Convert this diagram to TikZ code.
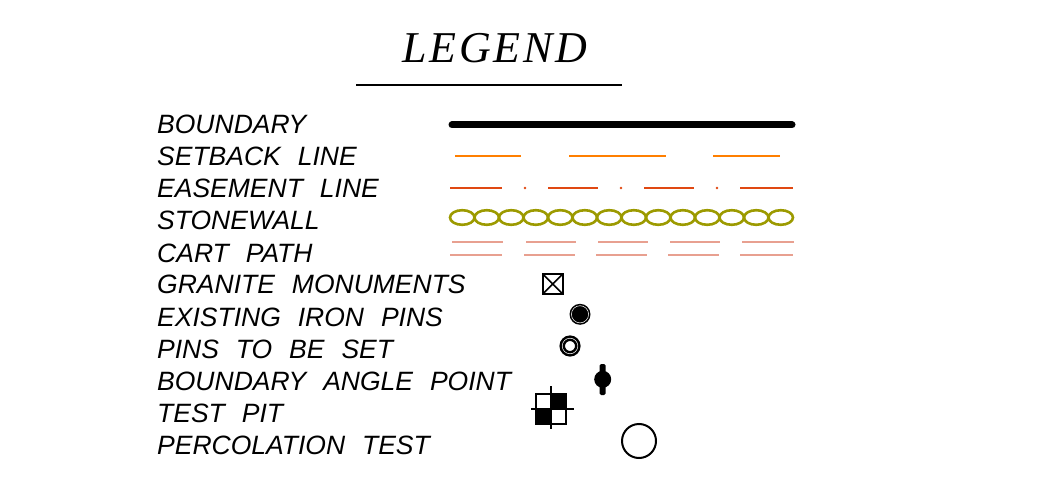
\documentclass[tikz,border=0pt]{standalone}
\usepackage{fontspec}
\setmainfont{Liberation Sans}[WordSpace=2.3]
\newfontfamily\legfont{Liberation Serif}[LetterSpace=6]
\definecolor{setback}{HTML}{FF7F00}
\definecolor{easement}{HTML}{E04812}
\definecolor{stonewall}{HTML}{9C9A00}
\definecolor{cartpath}{HTML}{E8A090}
\begin{document}
\begin{tikzpicture}[x=1pt,y=1pt,
  lbl/.style={anchor=base west,inner sep=0pt,font=\fontsize{26.5}{26.5}\selectfont\itshape},
  sym/.style={line width=2pt,black}]
\useasboundingbox (0,0) rectangle (1038,-486);
% title
\node[anchor=base,inner sep=0pt,font=\fontsize{44}{44}\legfont\itshape] (title) at (495,-62.5) {LEGEND};
\coordinate (ulL) at (356,-85);
\coordinate (ulR) at (622,-85);
\draw[line width=1.6pt] (ulL) -- (ulR);
% labels
\node[lbl] (l1) at (157,-134) {BOUNDARY};
\node[lbl] (l2) at (157,-166) {SETBACK LINE};
\node[lbl] (l3) at (157,-198) {EASEMENT LINE};
\node[lbl] (l4) at (157,-230) {STONEWALL};
\node[lbl] (l5) at (157,-262) {CART PATH};
\node[lbl] (l6) at (157,-294) {GRANITE MONUMENTS};
\node[lbl] (l7) at (157,-326) {EXISTING IRON PINS};
\node[lbl] (l8) at (157,-358) {PINS TO BE SET};
\node[lbl] (l9) at (157,-390) {BOUNDARY ANGLE POINT};
\node[lbl] (l10) at (157,-422) {TEST PIT};
\node[lbl] (l11) at (157,-454) {PERCOLATION TEST};
% boundary
\draw[line width=7pt,line cap=round] (452,-125) -- (792,-125);
% setback
\begin{scope}[setback,line width=2.6pt]
\draw (455,-156) -- (521,-156);
\draw (569,-156) -- (666,-156);
\draw (713,-156) -- (780,-156);
\end{scope}
% easement
\begin{scope}[easement,line width=2.2pt]
\draw (450,-188) -- (502,-188);
\draw (548,-188) -- (598,-188);
\draw (644,-188) -- (694,-188);
\draw (740,-188) -- (793,-188);
\fill (525,-188) circle (1.3);
\fill (621,-188) circle (1.3);
\fill (717,-188) circle (1.3);
\end{scope}
% stonewall
\begin{scope}[stonewall,line width=2.6pt]
\foreach \k in {0,...,13}{
  \draw ({462.25+24.5*\k},-217.5) ellipse (12.25 and 7.3);
}
\end{scope}
% cart path
\begin{scope}[cartpath,line width=1.8pt]
\foreach \a/\b in {452/503,526/576,598/648,670/720,742/794}{
  \draw (\a,-242) -- (\b,-242);
  \draw ({\a-2},-255) -- ({\b-1},-255);
}
\end{scope}
% granite monument
\draw[sym] (542.7,-274) rectangle (562.7,-294);
\draw[sym,line width=1.6pt] (542.7,-274) -- (562.7,-294) (542.7,-294) -- (562.7,-274);
% existing iron pin
\fill (580,-314.3) circle (10.5);
\draw[white,line width=0.5pt] (580,-314.3) circle (8.6);
% pin to be set
\draw[line width=5.5pt] (570,-346) circle (7.8);
\draw[white,line width=0.5pt] (570,-346) circle (7.8);
% boundary angle point
\fill (602.7,-379.3) circle (8.5);
\fill[rounded corners=1.5pt] (599.7,-364) rectangle (605.7,-395);
% test pit
\fill (550.7,-394.3) rectangle (565.7,-409.3);
\fill (535.7,-409.3) rectangle (550.7,-424.3);
\draw[sym] (535.7,-394.3) rectangle (565.7,-424.3);
\draw[sym] (531,-409.3) -- (574.3,-409.3) (550.7,-386) -- (550.7,-429.3);
% percolation test
\draw[sym] (639,-441) circle (17);
\end{tikzpicture}
\end{document}
